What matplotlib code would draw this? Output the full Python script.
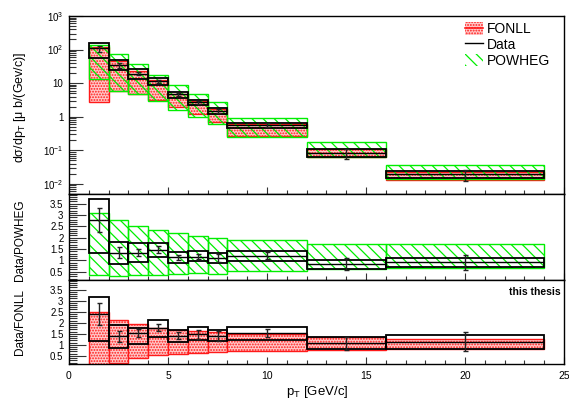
import numpy as np
import matplotlib
matplotlib.use("Agg")
import matplotlib.pyplot as plt
from matplotlib.patches import Patch
from matplotlib.lines import Line2D
from matplotlib.ticker import FixedLocator, MultipleLocator, LogLocator, NullFormatter, FixedFormatter

plt.rcParams['font.family'] = ['Liberation Sans', 'DejaVu Sans']
plt.rcParams['mathtext.default'] = 'regular'
plt.rcParams['hatch.linewidth'] = 0.9

# pT bin edges [GeV/c]
pt_edges = [1, 2, 3, 4, 5, 6, 7, 8, 12, 16, 24]

# cross section, top panel [mub/(GeV/c)]
data_xs = [108, 34, 19.3, 11.4, 4.6, 2.66, 1.47, 0.56, 0.083, 0.0194]
data_xs_stat = [21, 6, 2.3, 1.1, 0.46, 0.28, 0.22, 0.07, 0.026, 0.007]
data_xs_syslo = [57, 24, 13.5, 8.7, 3.7, 2.17, 1.17, 0.45, 0.063, 0.0155]
data_xs_syshi = [158, 49.5, 26.7, 14.4, 5.5, 3.2, 1.77, 0.66, 0.107, 0.024]
powheg_lo = [13, 6.0, 4.8, 2.9, 1.6, 0.98, 0.62, 0.25, 0.063, 0.0137]
powheg_hi = [141, 76, 37.5, 18.1, 8.7, 4.8, 2.7, 0.89, 0.18, 0.037]
fonll_lo = [2.8, 5.8, 4.9, 3.1, 1.93, 1.17, 0.71, 0.26, 0.062, 0.0128]
fonll_hi = [117, 47, 22.7, 12.8, 4.9, 2.85, 1.65, 0.62, 0.11, 0.022]

# Data/POWHEG
rp = [2.78, 1.34, 1.34, 1.48, 1.13, 1.17, 1.12, 1.21, 0.83, 0.91]
rp_stat = [0.545, 0.235, 0.16, 0.145, 0.12, 0.125, 0.17, 0.15, 0.26, 0.33]
rp_syslo = [1.32, 0.84, 0.91, 1.16, 0.90, 0.96, 0.90, 0.96, 0.62, 0.72]
rp_syshi = [3.69, 1.82, 1.76, 1.78, 1.35, 1.40, 1.31, 1.43, 1.00, 1.12]
rp_band_lo = [0.34, 0.32, 0.34, 0.35, 0.40, 0.43, 0.40, 0.52, 0.62, 0.68]
rp_band_hi = [3.09, 2.78, 2.51, 2.34, 2.21, 2.09, 2.01, 1.90, 1.72, 1.72]

# Data/FONLL
rf = [2.39, 1.38, 1.52, 1.78, 1.42, 1.47, 1.38, 1.53, 1.07, 1.15]
rf_stat = [0.48, 0.255, 0.185, 0.17, 0.16, 0.21, 0.225, 0.165, 0.30, 0.43]
rf_syslo = [1.16, 0.86, 1.04, 1.37, 1.13, 1.22, 1.16, 1.22, 0.80, 0.80]
rf_syshi = [3.18, 1.89, 1.76, 2.12, 1.68, 1.79, 1.65, 1.82, 1.34, 1.43]
rf_band_lo = [0.10, 0.20, 0.40, 0.52, 0.57, 0.65, 0.66, 0.72, 0.78, 0.82]
rf_band_hi = [2.48, 2.13, 1.95, 1.77, 1.68, 1.61, 1.56, 1.49, 1.34, 1.28]

log_ticks = [0.01, 0.1, 1, 10, 100, 1000]
log_labels = ['$10^{-2}$', '$10^{-1}$', '1', '10', '$10^{2}$', '$10^{3}$']
ratio_ticks = [0.5, 1, 1.5, 2, 2.5, 3, 3.5]
ratio_labels = ['0.5', '1', '1.5', '2', '2.5', '3', '3.5']

left = np.array(pt_edges[:-1], dtype=float)
width = np.diff(pt_edges).astype(float)
mid = left + width / 2

RED = '#ff1a1a'
GREEN = '#00ee00'


def fonll_band(ax, lo, hi):
    ax.bar(left, np.subtract(hi, lo), width, bottom=lo, align='edge',
           facecolor='#ffcaca', edgecolor=RED, hatch='......', lw=1.0, zorder=2)


def powheg_band(ax, lo, hi):
    ax.bar(left, np.subtract(hi, lo), width, bottom=lo, align='edge',
           facecolor='none', edgecolor=GREEN, hatch='\\\\\\', lw=1.0, zorder=3)


def data_points(ax, y, stat, lo, hi):
    ax.bar(left, np.subtract(hi, lo), width, bottom=lo, align='edge',
           facecolor='none', edgecolor='black', lw=1.3, zorder=4)
    ax.hlines(y, left, left + width, color='black', lw=1.0, zorder=4)
    ax.errorbar(mid, y, yerr=stat, fmt='none', ecolor='#222222',
                elinewidth=1.0, capsize=1.8, capthick=1.0, zorder=5)


fig = plt.figure(figsize=(5.69, 4.05), dpi=100)
W, H = 569.0, 405.0
ax_l = 69 / W
ax_w = 495 / W
ax_top = fig.add_axes([ax_l, (H - 194) / H, ax_w, 178 / H])
ax_mid = fig.add_axes([ax_l, (H - 280) / H, ax_w, 86 / H])
ax_bot = fig.add_axes([ax_l, (H - 364) / H, ax_w, 84 / H])

# top panel
fonll_band(ax_top, fonll_lo, fonll_hi)
powheg_band(ax_top, powheg_lo, powheg_hi)
data_points(ax_top, data_xs, data_xs_stat, data_xs_syslo, data_xs_syshi)
ax_top.set_yscale('log')
ax_top.set_ylim(0.005, 1000)
ax_top.yaxis.set_major_locator(FixedLocator(log_ticks))
ax_top.yaxis.set_major_formatter(FixedFormatter(log_labels))
ax_top.yaxis.set_minor_locator(LogLocator(base=10, subs=np.arange(2, 10)))
ax_top.yaxis.set_minor_formatter(NullFormatter())

# middle panel
powheg_band(ax_mid, rp_band_lo, rp_band_hi)
data_points(ax_mid, rp, rp_stat, rp_syslo, rp_syshi)

# bottom panel
fonll_band(ax_bot, rf_band_lo, rf_band_hi)
data_points(ax_bot, rf, rf_stat, rf_syslo, rf_syshi)

for ax in (ax_mid, ax_bot):
    ax.set_ylim(0.135, 3.93)
    ax.yaxis.set_major_locator(FixedLocator(ratio_ticks))
    ax.yaxis.set_major_formatter(FixedFormatter(ratio_labels))
    ax.yaxis.set_minor_locator(MultipleLocator(0.1))
    ax.tick_params(axis='y', which='major', length=12, labelsize=7, pad=4)
    ax.tick_params(axis='y', which='minor', length=6)

for ax in (ax_top, ax_mid, ax_bot):
    ax.set_xlim(0, 25)
    ax.xaxis.set_major_locator(MultipleLocator(5))
    ax.xaxis.set_minor_locator(MultipleLocator(1))
    ax.tick_params(which='both', direction='in', color='#333333', width=0.8)
    ax.tick_params(axis='x', which='major', length=5, labelsize=7.5, pad=5)
    ax.tick_params(axis='x', which='minor', length=3)
    for s in ax.spines.values():
        s.set_linewidth(1.0)

ax_top.tick_params(axis='y', which='major', length=10, labelsize=7, pad=4)
ax_top.tick_params(axis='y', which='minor', length=5)
ax_top.tick_params(axis='x', labelbottom=False)
ax_mid.tick_params(axis='x', labelbottom=False)

# labels
fig.text(20 / W, (H - 107) / H, 'd\u03c3/dp$_{T}$ [\u03bc b/(Gev/c)]', rotation=90,
         ha='center', va='center', fontsize=9)
fig.text(20 / W, (H - 240) / H, 'Data/POWHEG', rotation=90,
         ha='center', va='center', fontsize=8.5)
fig.text(20 / W, (H - 322) / H, 'Data/FONLL', rotation=90,
         ha='center', va='center', fontsize=8.5)
fig.text(317 / W, (H - 392) / H, 'p$_{T}$ [GeV/c]', ha='center', va='center', fontsize=9.5)
fig.text(561 / W, (H - 292) / H, 'this thesis', ha='right', va='center',
         fontsize=7.5, fontweight='bold')

# legend
h_fonll = (Patch(facecolor='#ffcaca', edgecolor=RED, hatch='......', lw=0),
           Line2D([], [], color=RED, lw=1.2))
h_data = Line2D([], [], color='black', lw=1.0)
h_pow = Patch(facecolor='none', edgecolor=GREEN, hatch='\\\\\\', lw=0)
ax_top.legend([h_fonll, h_data, h_pow], ['FONLL', 'Data', 'POWHEG'],
              loc='upper left', bbox_to_anchor=((465 - 69) / 495, 0.965),
              frameon=False, fontsize=10, handlelength=1.3, handleheight=1.0,
              handletextpad=0.3, labelspacing=0.12, borderpad=0, borderaxespad=0)

fig.savefig('out.png', dpi=100)
